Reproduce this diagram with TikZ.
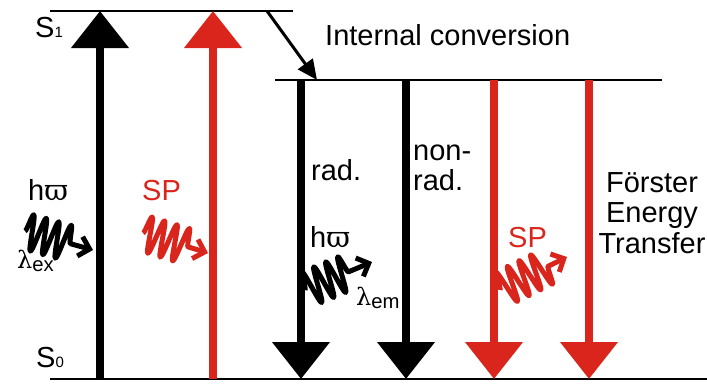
\documentclass[tikz,border=0pt]{standalone}
\usepackage{fontspec}
\setmainfont{Liberation Sans}
\newfontfamily\grk{DejaVu Serif}
\usetikzlibrary{arrows.meta,decorations.pathmorphing}
\definecolor{spred}{RGB}{218,37,29}

\begin{document}
\begin{tikzpicture}
    [ x=1pt, y=-1pt
    , font=\fontsize{29}{30}\selectfont
    , every node/.style={inner sep=0pt}
    , level/.style={line width=2.2pt}
    , bigarrow/.style={line width=8pt, -{Triangle[width=56pt,length=37pt]}}
    , icarrow/.style={line width=3pt, -{Triangle[width=18pt,length=20pt]}}
    , photon/.style={line width=5pt, line join=round,
        decoration={snake, amplitude=18pt, segment length=13pt, post length=20pt},
        decorate, -{Straight Barb[length=10pt,width=20pt]}}
    ]
\useasboundingbox (0,0) rectangle (707,383);

\coordinate (S1l) at (50,11);
\coordinate (S1r) at (293,11);
\coordinate (S1pl) at (275,80);
\coordinate (S1pr) at (662,80);
\coordinate (S0l) at (50,379);
\coordinate (S0r) at (707,379);
\draw[level] (S1l) -- (S1r);
\draw[level] (S1pl) -- (S1pr);
\draw[level] (S0l) -- (S0r);

\node[anchor=base west] (s1) at (35,37) {S{\fontsize{15}{15}\selectfont 1}};
\node[anchor=base west] (s0) at (36,367) {S{\fontsize{15}{15}\selectfont 0}};

\coordinate (exb) at (100,379);
\coordinate (ext) at (100,11);
\coordinate (spb) at (213,379);
\coordinate (spt) at (213,11);
\draw[bigarrow] (exb) -- (ext);
\draw[bigarrow, spred] (spb) -- (spt);

\coordinate (ics) at (267,11);
\coordinate (ice) at (317,80);
\draw[icarrow] (ics) -- (ice);
\node[anchor=base west] (ic) at (325,45) {Internal conversion};

\coordinate (radt) at (301,80);
\coordinate (radb) at (301,379);
\coordinate (nonradt) at (406,80);
\coordinate (nonradb) at (406,379);
\coordinate (spdt) at (494,80);
\coordinate (spdb) at (494,379);
\coordinate (frett) at (589,80);
\coordinate (fretb) at (589,379);
\draw[bigarrow] (radt) -- (radb);
\draw[bigarrow] (nonradt) -- (nonradb);
\draw[bigarrow, spred] (spdt) -- (spdb);
\draw[bigarrow, spred] (frett) -- (fretb);

\node[anchor=base west] (rad) at (311,180) {rad.};
\node[anchor=north west, align=left] (nonrad) at (413,145) {non-\\rad.};
\node[anchor=north, align=center, font=\fontsize{29}{30.5}\selectfont]
    (fret) at (652,172) {Förster\\Energy\\Transfer};

\coordinate (w1s) at (25,231);
\coordinate (w1e) at (93,250);
\coordinate (w2s) at (143,233);
\coordinate (w2e) at (208,253);
\coordinate (w3s) at (305,290);
\coordinate (w3e) at (372,262);
\coordinate (w4s) at (500,290);
\coordinate (w4e) at (567,257);
\draw[photon] (w1s) -- (w1e);
\draw[photon, spred] (w2s) -- (w2e);
\draw[photon] (w3s) -- (w3e);
\draw[photon, spred] (w4s) -- (w4e);

\node[anchor=base west] (hw1) at (28,200) {h{\grk ϖ}};
\node[anchor=base west] (lex) at (17,268)
    {{\fontsize{24}{24}\selectfont\grk λ}\textsubscript{ex}};
\node[anchor=base west, text=spred] (sp1) at (142,200) {SP};
\node[anchor=base west] (hw2) at (310,247) {h{\grk ϖ}};
\node[anchor=base west] (lem) at (356,305)
    {{\fontsize{24}{24}\selectfont\grk λ}\textsubscript{em}};
\node[anchor=base west, text=spred] (sp2) at (508,247) {SP};
\end{tikzpicture}
\end{document}
